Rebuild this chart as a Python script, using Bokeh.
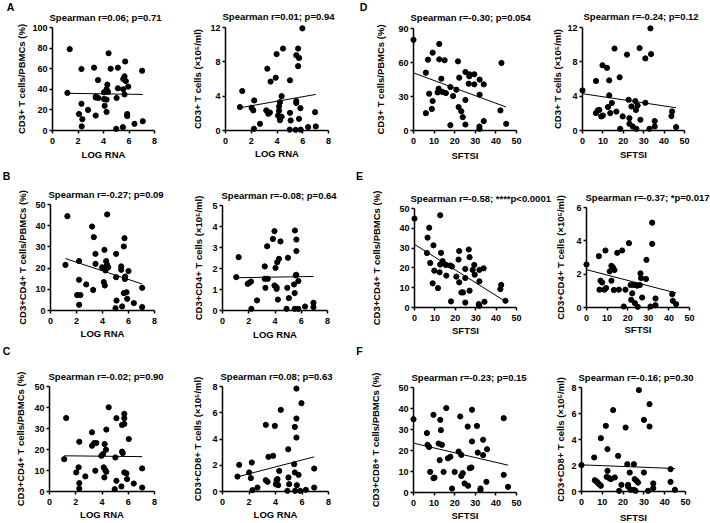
from bokeh.plotting import figure
from bokeh.layouts import row, column
from bokeh.models import FixedTicker, Range1d, Label, LinearAxis
from bokeh.embed import file_html
from bokeh.resources import INLINE

FONT = "Liberation Sans"

# ---------------- data ----------------
A_x = [1.17, 1.35, 2.08, 2.27, 2.27, 2.34, 2.29, 2.79, 3.26, 3.57, 3.39, 3.59, 3.39, 4.40, 4.56, 4.30, 4.24, 4.04, 4.04,
       4.24, 4.09, 4.24, 5.13, 5.03, 5.13, 5.55, 5.65, 5.70, 5.65, 5.55, 5.75, 5.94, 5.86, 5.86, 5.00, 5.52, 6.43, 7.08,
       7.03, 4.35, 3.40]
A_y = [36.5, 79, 16, 59.7, 26, 11, 4, 20, 61, 49, 32, 31.6, 14.5, 75, 60, 44.5, 40, 37, 30.6, 30, 24, 18, 61, 31.6, 41,
       40, 35, 67, 52.6, 50, 48, 42.6, 16, 14, 1.6, 3.2, 6.5, 9, 58, 37.5, 33]
A_fit = [36.1, 35.0]

A2_x = [1.12, 1.30, 2.03, 2.16, 2.23, 2.21, 2.68, 3.25, 3.17, 3.32, 3.50, 3.45, 3.90, 3.97, 4.47, 4.08, 4.16, 4.20, 4.23,
        4.16, 4.23, 4.36, 4.36, 5.01, 5.01, 5.06, 4.99, 5.50, 5.64, 5.71, 5.64, 5.50, 5.50, 5.82, 5.71, 5.84, 5.45, 5.97,
        6.42, 6.96, 7.01]
A2_y = [2.73, 4.6, 2.65, 2.34, 3.5, 0.2, 0.78, 7.2, 2.34, 1.95, 5.7, 2.1, 6.15, 8.9, 9.55, 1.75, 2.3, 1.55, 1.2, 2.8, 3.3,
        4.0, 1.6, 5.85, 2.06, 1.17, 0.1, 8.77, 9.55, 8.45, 7.5, 3.43, 3.2, 2.6, 1.36, 0.1, 0.08, 11.9, 0.4, 2.14, 0.47]
A2_fit = [2.65, 4.2]

D_x = [0, 6, 7, 6, 7.6, 9.3, 9.3, 8.9, 11.7, 12.2, 12.5, 12.5, 13.5, 14.1, 15.1, 15.7, 17.9, 17.9, 19.2, 20.8, 21.6,
       22.2, 21.9, 23.2, 23.9, 25.2, 25.2, 25.2, 27.1, 27.1, 26.8, 29.5, 29.5, 32.1, 32.1, 32.0, 32.0, 34.1, 34.1, 42.7,
       42.2, 45]
D_y = [80, 51, 62.5, 15.3, 32.5, 68.7, 26, 19, 33.6, 36.9, 76.4, 62.8, 45.7, 34, 62, 33, 38.4, 4.7, 30.4, 36, 61, 46.6,
       20.7, 17, 11.8, 27, 5.3, 51.6, 49.6, 47.8, 41.3, 49.6, 40.7, 44.9, 31.6, 3.5, 1.5, 40.7, 8.3, 59.6, 17.7, 5.9]
D_fit = [50.8, 20.7]

D2_x = [0, 6.6, 6.6, 7.5, 8.2, 9.2, 10, 9.8, 12, 13.1, 13.1, 12.5, 14.4, 13.6, 15.7, 16.6, 18.2, 18.5, 19.7, 21.8, 22.6,
        23, 23, 24, 24.6, 25.9, 26.2, 26.4, 27, 28, 28.4, 30.8, 30.8, 32.8, 33.3, 33.6, 35.4, 35.4, 43.9, 43.6, 45.9]
D2_y = [4.67, 5.77, 2.03, 2.34, 2.4, 1.64, 1.75, 7.6, 7.3, 5.84, 4.1, 2.73, 3.2, 2.03, 9.55, 2.2, 6.2, 0.2, 1.64, 8.84,
        3.58, 1.44, 0.78, 2.8, 0.47, 3.43, 2.4, 0.2, 2.92, 9.6, 1.25, 8.4, 3.23, 0.2, 11.9, 8.9, 1.1, 0.47, 2.22, 1.68,
        0.4]
D2_fit = [4.29, 2.65]

B_x = [1.3, 1.15, 2.2, 2.2, 2.05, 2.3, 2.2, 2.75, 3.2, 3.33, 3.46, 3.46, 3.28, 4.36, 4.15, 4.28, 4.36, 4.44, 4.23, 4.32,
       3.97, 4.1, 4.18, 5.05, 5.05, 5.08, 5.0, 5.44, 5.44, 5.51, 5.69, 5.64, 5.74, 5.72, 5.64, 5.85, 5.9, 6.0, 6.41, 7.05,
       7.05]
B_y = [44.5, 21.5, 23.3, 14.5, 7.3, 7.3, 2.7, 12.3, 39.6, 34.6, 26.7, 22, 9.7, 45.3, 28.6, 23.3, 21.5, 20.4, 18.9, 20.8,
       20.4, 13.4, 11.8, 26.7, 15.7, 4.7, 1.1, 20.8, 19.2, 1.9, 34.1, 30.2, 16, 14.9, 8.2, 8.6, 5.5, 18.6, 3.5, 10.7, 1.6]
B_fit = [24.5, 12.5]

B2_x = [1.05, 1.23, 1.92, 2.05, 2.17, 2.2, 2.63, 3.22, 3.22, 3.27, 3.45, 3.4, 3.84, 3.96, 4.04, 3.96, 4.12, 4.12, 4.22,
        4.17, 4.3, 4.42, 4.94, 4.99, 5.06, 4.88, 5.45, 5.5, 5.52, 5.63, 5.63, 5.58, 5.5, 5.78, 5.78, 6.29, 6.93, 6.93,
        5.62]
B2_y = [1.59, 2.54, 1.27, 1.32, 1.38, 0.08, 0.48, 2.1, 1.51, 1.08, 1.51, 3.06, 3.41, 3.78, 2.03, 1.19, 1.11, 1.03, 0.52,
        2.3, 2.46, 3.29, 1.08, 2.51, 0.59, 0.08, 1.24, 0.08, 3.81, 3.38, 2.83, 1.67, 0.83, 1.4, 0.08, 0.19, 0.37, 0.16,
        1.7]
B2_fit = [1.56, 1.62]

E_x = [0, 6.1, 6.4, 7.2, 7.7, 8.9, 9.7, 9.3, 11.5, 12.3, 12.6, 13, 12.6, 13.8, 14, 15.4, 15.6, 17.5, 18.4, 17.9, 20.5,
       21.6, 21.9, 21.9, 23, 23.8, 24.9, 24.9, 24.9, 26.6, 27, 27, 28.5, 29.3, 29.5, 31.8, 31.8, 31.5, 31.8, 33.9, 34.3,
       42.1, 42.5, 44.6]
E_y = [44.9, 27.5, 35.3, 40.3, 22.5, 12.2, 18.6, 31.4, 9.8, 17.8, 21.7, 27.6, 46.6, 23.4, 22.4, 21.5, 16.1, 21.2, 20.7,
       3.05, 15.6, 24.2, 28.5, 12.7, 7.6, 7.6, 19.5, 14.9, 2.5, 29.3, 25.4, 8.5, 19, 21.5, 16.6, 19, 13.2, 1.7, 0.85,
       19.8, 2.9, 9.3, 11.4, 3.4]
E_fit = [31.9, 3.05]

E2_x = [0, 6, 6.8, 7.6, 6.3, 9.2, 8.7, 9.5, 11.3, 12.1, 12.8, 12.1, 13.3, 13.6, 14.9, 15.7, 17.3, 18.1, 18.9, 20.6,
        21.4, 21.7, 22.2, 23, 23.5, 24.6, 24.9, 25.9, 26.2, 26.5, 27, 29.1, 28.9, 31.1, 31.9, 31.9, 33.5, 33.5, 41.6,
        41.9, 43.5]
E2_y = [2.58, 3.08, 1.61, 1.5, 1.07, 3.42, 1.07, 1.17, 2.17, 2.5, 2.41, 1.61, 1.05, 2.25, 3.28, 1.07, 3.42, 0.06, 1.07,
        3.86, 1.35, 0.46, 0.85, 1.35, 0.26, 1.31, 0.04, 1.35, 2.05, 1.77, 0.6, 2.86, 1.71, 0.06, 3.82, 5.09, 0.54, 0.14,
        0.8, 0.4, 0.2]
E2_fit = [2.27, 0.87]

C_x = [1.12, 1.27, 2.04, 2.22, 2.27, 2.27, 2.27, 2.73, 3.24, 3.24, 3.41, 3.57, 3.49, 3.95, 4.08, 4.13, 4.18, 4.25, 4.33,
       4.2, 4.3, 4.33, 4.51, 5.02, 5.1, 5.1, 4.97, 5.48, 5.53, 5.58, 5.53, 5.7, 5.7, 5.7, 5.7, 5.86, 5.91, 6.04, 6.42,
       7.06, 7.06]
C_y = [15.4, 35, 9.1, 11.5, 23.7, 4, 1.4, 7.2, 28.2, 21.8, 23.1, 23.1, 9.9, 17, 17.8, 11.5, 6.7, 10.2, 9.4, 22.6, 19.9,
       29.5, 40.1, 16.2, 34.9, 5.1, 1.1, 2.4, 19, 18.3, 31.7, 32.2, 37, 34.9, 9.1, 8.6, 5.9, 25, 3.8, 11, 1.9]
C_fit = [17.0, 16.6]

C2_x = [1.13, 1.26, 2.01, 2.14, 2.21, 2.26, 2.64, 3.27, 3.27, 3.4, 3.47, 3.82, 3.95, 4.03, 4.08, 4.15, 4.2, 4.28, 4.4,
        4.1, 4.96, 4.98, 5.03, 4.9, 5.46, 5.41, 5.46, 5.48, 5.58, 5.58, 5.58, 5.61, 5.74, 5.86, 5.96, 6.29, 6.92, 6.92]
C2_y = [1.14, 2.03, 1.45, 1.02, 2.21, 0.1, 0.3, 5.08, 0.86, 0.74, 2.64, 2.72, 5.0, 0.56, 0.81, 0.94, 0.48, 1.57, 6.22,
        0.9, 3.22, 1.07, 0.56, 0.05, 4.92, 2.08, 1.45, 0.05, 7.84, 5.56, 4.11, 0.48, 1.27, 0.05, 6.73, 0.13, 1.75, 0.3]
C2_fit = [1.12, 2.64]

F_x = [0, 6.5, 6.8, 7.6, 8.1, 9.7, 9.7, 10.2, 13.3, 13, 12.2, 13.8, 12.7, 14.6, 15.9, 16.7, 17.9, 18.7, 20, 21.9, 22.7,
       23.2, 23.2, 23.9, 24.8, 26.3, 26.5, 27.3, 28.1, 28.4, 28.4, 30.8, 31.2, 32.5, 32.5, 33.8, 33.8, 35.4, 35.7, 43.8,
       43.8, 45.9]
F_y = [34.9, 28.3, 22.7, 21.7, 9.8, 37, 6.8, 7.1, 29.7, 34.6, 23.3, 22.7, 15.4, 9.8, 40.2, 16.3, 17, 1.9, 9.8, 19.5,
       36.2, 17.9, 7.9, 9.2, 4.3, 31.4, 3.2, 11.6, 11.9, 39.4, 24.3, 31.7, 19, 1.9, 1.1, 25.1, 17.8, 5.1, 20.6, 35.4, 8.4,
       2.7]
F_fit = [23.5, 13.0]

F2_x = [0, 6.1, 6.4, 7.2, 7.7, 8.5, 9.3, 9.3, 11.7, 12.5, 12.5, 12.1, 13.3, 14.1, 15.2, 16, 17.6, 18.1, 19.2, 21.2, 22,
        22.4, 22.4, 23.2, 23.6, 25.2, 25.2, 25.6, 26, 26.5, 27.2, 27.6, 30, 30, 32, 32.7, 32.7, 34.5, 34.5, 42.8, 42.8,
        44.9]
F2_y = [2.03, 2.62, 0.87, 0.77, 0.69, 0.56, 0.44, 4.1, 5.05, 3.26, 1.59, 1.13, 1.03, 0.95, 6.26, 1.08, 2.74, 0.05, 0.51,
        4.92, 2.1, 0.51, 0.38, 1.46, 0.13, 2.1, 0.13, 0.95, 0.05, 0.82, 0.69, 7.8, 1.46, 5.51, 0.05, 6.72, 5.0, 0.62,
        0.26, 1.72, 0.74, 0.13]
F2_fit = [2.05, 1.77]

LOG_TICKS = [0, 2, 4, 6, 8]
SFTSI_TICKS = [0, 10, 20, 30, 40, 50]

TITLES = {
    "A": "Spearman r=0.06; p=0.71", "A2": "Spearman r=0.01; p=0.94",
    "D": "Spearman r=-0.30; p=0.054", "D2": "Spearman r=-0.24; p=0.12",
    "B": "Spearman r=-0.27; p=0.09", "B2": "Spearman r=-0.08; p=0.64",
    "E": "Spearman r=-0.58; ****p<0.0001", "E2": "Spearman r=-0.37; *p=0.017",
    "C": "Spearman r=-0.02; p=0.90", "C2": "Spearman r=0.08; p=0.63",
    "F": "Spearman r=-0.23; p=0.15", "F2": "Spearman r=-0.16; p=0.30",
}
YLABELS = {
    "A": "CD3+ T cells/PBMCs (%)", "A2": "CD3+ T cells (×10⁵/ml)",
    "D": "CD3+ T cells/PBMCs (%)", "D2": "CD3+ T cells (×10⁵/ml)",
    "B": "CD3+CD4+ T cells/PBMCs (%)", "B2": "CD3+CD4+ T cells (×10⁵/ml)",
    "E": "CD3+CD4+ T cells/PBMCs (%)", "E2": "CD3+CD4+ T cells (×10⁵/ml)",
    "C": "CD3+CD4+ T cells/PBMCs (%)", "C2": "CD3+CD8+ T cells (×10⁵/ml)",
    "F": "CD3+CD8+ T cells/PBMCs (%)", "F2": "CD3+CD8+ T cells (×10⁵/ml)",
}


def panel(x, y, fit, xticks, yticks, key, xlabel, W, H, ax, ay,
          title_dx=-2, title_dy=-10, y_lab_so=3, x_lab_so=1, letter=None, lpos=(0, 0)):
    """ax = (left, right) canvas px of the x axis; ay = (bottom, top) canvas px of the y axis."""
    xmax, ymax = xticks[-1], yticks[-1]
    kx = (ax[1] - ax[0]) / xmax
    ky = (ay[0] - ay[1]) / ymax
    p = figure(width=W, height=H, output_backend="svg", toolbar_location=None, title=None,
               x_axis_location=None, y_axis_location=None, min_border=0,
               x_range=Range1d(-ax[0] / kx, (W - ax[0]) / kx),
               y_range=Range1d(-(H - ay[0]) / ky, ay[0] / ky))
    p.outline_line_color = None
    p.background_fill_color = None
    p.border_fill_color = None
    p.xgrid.visible = False
    p.ygrid.visible = False

    def to_data(cx, cy):
        return (cx - ax[0]) / kx, (ay[0] - cy) / ky

    for side, ticks, lab in (("below", xticks, xlabel), ("left", yticks, YLABELS[key])):
        a = LinearAxis(fixed_location=0, bounds=(0, ticks[-1]),
                       ticker=FixedTicker(ticks=ticks, minor_ticks=[]),
                       axis_label=lab,
                       axis_line_width=1.5, axis_line_color="black",
                       major_tick_line_width=1.5, major_tick_line_color="black",
                       major_tick_in=0, major_tick_out=3, minor_tick_line_color=None,
                       major_label_text_font=FONT, major_label_text_font_size="9px",
                       major_label_text_font_style="bold", major_label_text_color="black",
                       axis_label_text_font=FONT, axis_label_text_font_size="9.5px",
                       axis_label_text_font_style="bold", axis_label_text_color="black")
        if side == "below":
            a.major_label_standoff = 4
            a.axis_label_standoff = x_lab_so
        else:
            a.major_label_standoff = 2
            a.axis_label_standoff = y_lab_so
        p.add_layout(a, side)

    p.scatter(x, y, size=5.2, color="black")
    p.line([min(x), max(x)], fit, line_width=1, color="black")

    tx, ty = to_data(ax[0] + title_dx, ay[1] + title_dy)
    p.add_layout(Label(x=tx, y=ty, text=TITLES[key], text_align="left", text_baseline="middle",
                       text_font=FONT, text_font_size="9.5px", text_font_style="bold", text_color="black"))
    if letter:
        lx, ly = to_data(*lpos)
        p.add_layout(Label(x=lx, y=ly, text=letter, text_align="center", text_baseline="middle",
                           text_font=FONT, text_font_size="10.5px", text_font_style="bold", text_color="black"))
    return p


LR, SF = "LOG RNA", "SFTSI"
Y100 = [0, 20, 40, 60, 80, 100]
Y50 = [0, 10, 20, 30, 40, 50]

# columns start at x = 0, 180, 355, 553 ; rows start at y = 0, 166, 342
pA = panel(A_x, A_y, A_fit, LOG_TICKS, Y100, "A", LR, 180, 166, (52, 154), (130, 27),
           title_dx=-3, y_lab_so=2, x_lab_so=2, letter="A", lpos=(10, 6))
pA2 = panel(A2_x, A2_y, A2_fit, LOG_TICKS, [0, 4, 8, 12], "A2", LR, 175, 166, (45, 148), (130, 27),
            title_dx=-3, title_dy=-11.5, y_lab_so=4)
pD = panel(D_x, D_y, D_fit, SFTSI_TICKS, [0, 30, 60, 90], "D", SF, 198, 166, (58, 161), (130, 28),
           title_dx=-3, title_dy=-11, y_lab_so=9, x_lab_so=3, letter="D", lpos=(8, 6))
pD2 = panel(D2_x, D2_y, D2_fit, SFTSI_TICKS, [0, 4, 8, 12], "D2", SF, 157, 166, (29, 131), (130, 27),
            title_dx=1, title_dy=-11.5, y_lab_so=1, x_lab_so=2)

pB = panel(B_x, B_y, B_fit, LOG_TICKS, Y50, "B", LR, 180, 176, (50, 154), (144, 38),
           title_dx=-2, y_lab_so=4, letter="B", lpos=(6, 9))
pB2 = panel(B2_x, B2_y, B2_fit, LOG_TICKS, [0, 1, 2, 3, 4, 5], "B2", LR, 175, 176, (42, 147), (144, 39),
            title_dx=-1, y_lab_so=5, x_lab_so=2)
pE = panel(E_x, E_y, E_fit, SFTSI_TICKS, Y50, "E", SF, 198, 176, (59, 161), (141, 42),
           title_dx=-4, y_lab_so=14, letter="E", lpos=(4, 9))
pE2 = panel(E2_x, E2_y, E2_fit, SFTSI_TICKS, [0, 2, 4, 6], "E2", SF, 157, 176, (33, 136), (141, 41),
            title_dx=-1, y_lab_so=7, x_lab_so=0)

pC = panel(C_x, C_y, C_fit, LOG_TICKS, Y50, "C", LR, 180, 181, (49, 154), (149, 44),
           title_dx=-1, y_lab_so=5, letter="C", lpos=(6, 8))
pC2 = panel(C2_x, C2_y, C2_fit, LOG_TICKS, [0, 2, 4, 6, 8], "C2", LR, 175, 181, (42, 148), (149, 44),
            title_dx=-2, y_lab_so=6)
pF = panel(F_x, F_y, F_fit, SFTSI_TICKS, Y50, "F", SF, 198, 181, (58, 161), (150, 45),
           title_dx=-2, y_lab_so=14, letter="F", lpos=(4, 8))
pF2 = panel(F2_x, F2_y, F2_fit, SFTSI_TICKS, [0, 2, 4, 6, 8], "F2", SF, 157, 181, (28, 132), (149, 45),
            title_dx=-3, y_lab_so=2, x_lab_so=4)

layout = column(row(pA, pA2, pD, pD2), row(pB, pB2, pE, pE2), row(pC, pC2, pF, pF2))

with open("out.html", "w") as f:
    f.write(file_html(layout, INLINE))
